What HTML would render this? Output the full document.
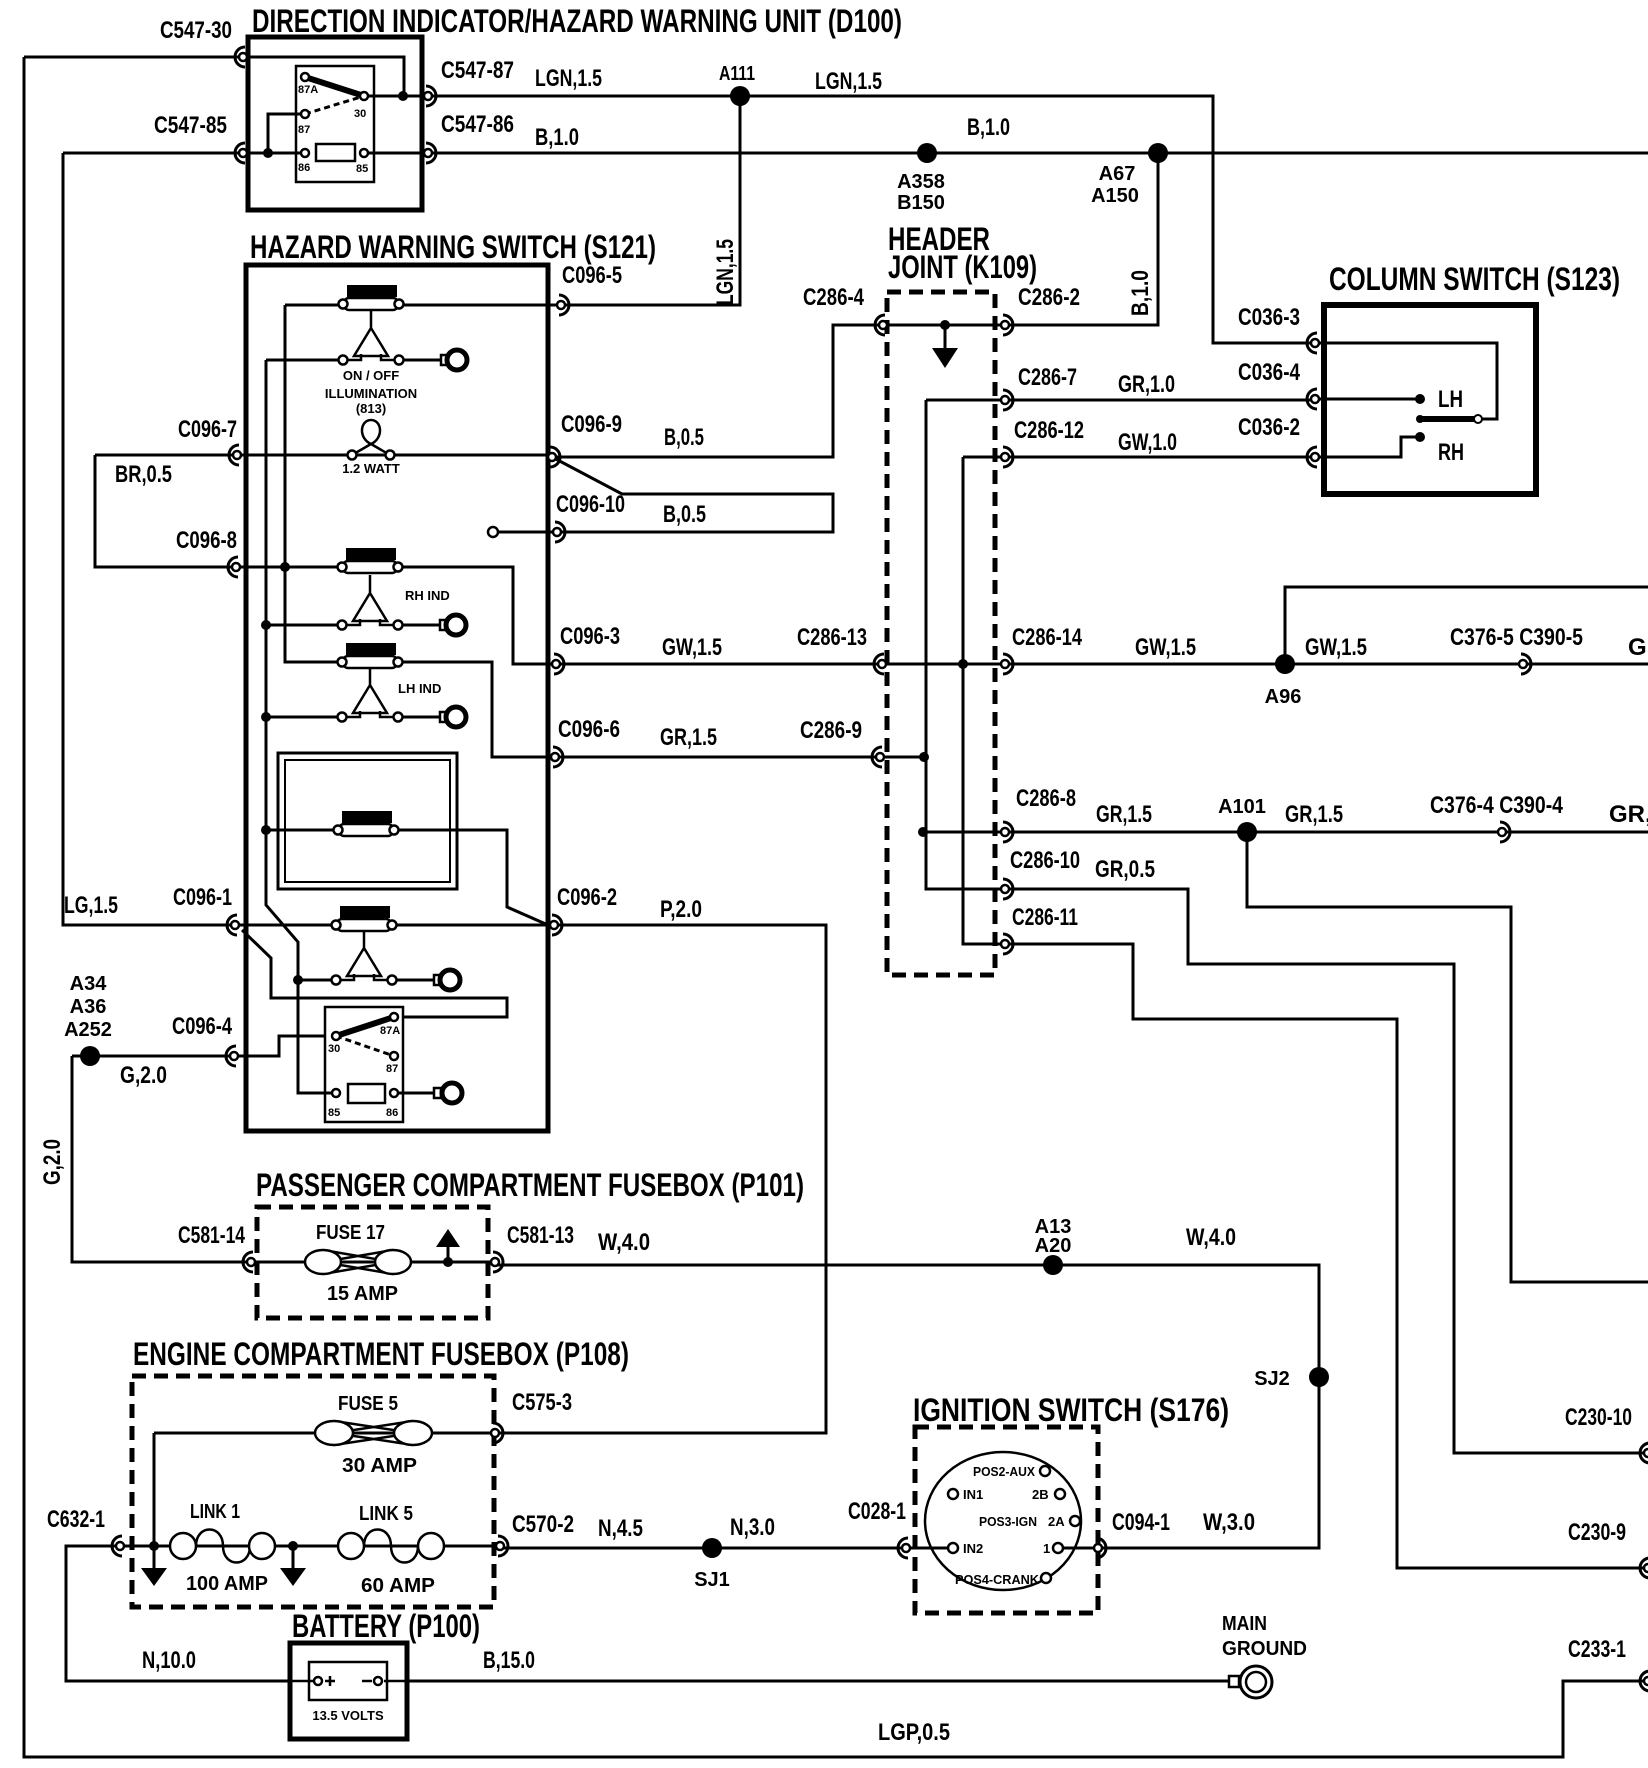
<!DOCTYPE html>
<html><head><meta charset="utf-8"><style>
html,body{margin:0;padding:0;background:#fff}
svg{display:block}
text{font-family:"Liberation Sans Narrow","Liberation Sans",sans-serif;font-weight:bold;fill:#000}
.w{fill:none;stroke:#000;stroke-width:3}
.t{font-size:24px}
.s{font-size:20px}
.x{font-size:13px}
.h{font-size:32px}
</style></head><body>
<svg width="1648" height="1768" viewBox="0 0 1648 1768" xmlns="http://www.w3.org/2000/svg">
<defs>
<g id="cL"><path d="M2,-10 A10,10 0 0 0 2,10" fill="none" stroke="#000" stroke-width="3"/><circle r="4" fill="#fff" stroke="#000" stroke-width="2.5"/></g>
<g id="cR"><path d="M-2,-10 A10,10 0 0 1 -2,10" fill="none" stroke="#000" stroke-width="3"/><circle r="4" fill="#fff" stroke="#000" stroke-width="2.5"/></g>
<g id="sw"><rect x="-24" y="-19" width="50" height="12" fill="#000"/><rect x="-27" y="-6" width="54" height="12" rx="5" fill="#fff" stroke="#000" stroke-width="2.5"/><circle cx="-28" cy="0" r="4.5" fill="#fff" stroke="#000" stroke-width="2.5"/><circle cx="28" cy="0" r="4.5" fill="#fff" stroke="#000" stroke-width="2.5"/></g>
<g id="tri"><path d="M0,6 V24 M0,24 L-17,52 H17 Z" fill="none" stroke="#000" stroke-width="2.5"/><path d="M-28,56 H-10 V50 M10,50 V56 H28" fill="none" stroke="#000" stroke-width="2.5"/><circle cx="-28" cy="56" r="4.5" fill="#fff" stroke="#000" stroke-width="2.5"/><circle cx="28" cy="56" r="4.5" fill="#fff" stroke="#000" stroke-width="2.5"/><path d="M32,56 H70" stroke="#000" stroke-width="3"/><rect x="70" y="51" width="7" height="10" fill="#fff" stroke="#000" stroke-width="2.5"/><circle cx="86" cy="56" r="10" fill="#fff" stroke="#000" stroke-width="5"/></g>
<g id="ring"><rect x="-18" y="-5" width="7" height="10" fill="#fff" stroke="#000" stroke-width="2.5"/><circle cx="0" cy="0" r="10" fill="#fff" stroke="#000" stroke-width="5"/></g>
<g id="dn"><path d="M0,0 V22" stroke="#000" stroke-width="3"/><polygon points="-13,20 13,20 0,38" fill="#000"/></g>
</defs>

<!-- wires -->
<g class="w">
<path d="M24,57 H404 V96 M24,57 V1757 H1563 V1681 H1648"/>
<path d="M63,153 H305 M268,153 V114 H305 M63,153 V925 H554"/>
<path d="M364,96 H428 M364,153 H428"/>
<path d="M428,96 H1213 V343 H1315 M740,96 V305 H561"/>
<path d="M428,153 H1648 M1158,153 V325 H1005"/>
<path d="M883,325 H1005 M883,325 H833 V457 H552 M945,325 V350"/>
<path d="M926,400 H1315 M926,400 V889 H1005 M963,457 H1315 M963,457 V944 H1005"/>
<path d="M1315,343 H1497 V419 H1478 M1315,399 H1420 M1315,457 H1401 V437 H1420"/>
<path d="M285,305 H561 M285,305 V662 H402 M266,360 V905 L298,942 V1093 H336"/>
<path d="M266,360 H343 M266,625 H342 M266,717 H342 M298,980 H336"/>
<path d="M95,455 H552 M95,455 V567 H402 M402,567 H513 V664 H556 M402,662 H492 V757 H555"/>
<path d="M266,830 H398 M398,830 H507 V907 L548,925"/>
<path d="M242,930 L271,958 V998 H507 V1017 H394"/>
<path d="M234,1056 H279 V1036 H336"/>
<path d="M493,532 H557 M552,457 L622,494 H833 V532 H557"/>
<path d="M556,664 H1648 M555,757 H924 M1285,664 V587 H1648"/>
<path d="M923,832 H1648 M1247,832 V907 H1511 V1282 H1648"/>
<path d="M1005,889 H1188 V964 H1454 V1453 H1648"/>
<path d="M1005,944 H1133 V1019 H1397 V1568 H1648"/>
<path d="M554,925 H826 V1433 H495"/>
<path d="M72,1056 H234 M72,1056 V1262 H251 M251,1262 H495 M448,1262 V1245"/>
<path d="M495,1265 H1319 V1548 H1098"/>
<path d="M154,1433 H495 M154,1433 V1546 M120,1546 H500"/>
<path d="M500,1548 H954 M1058,1548 H1098"/>
<path d="M120,1546 H66 V1681 H1229"/>
</g>

<!-- D100 -->
<rect x="248" y="37" width="174" height="173" fill="none" stroke="#000" stroke-width="5"/>
<rect x="296" y="66" width="78" height="116" fill="none" stroke="#000" stroke-width="2.5"/>
<path d="M305,77 L364,96" stroke="#000" stroke-width="6"/>
<path d="M305,114 L364,96" stroke="#000" stroke-width="3" stroke-dasharray="6 4"/>
<rect x="316" y="144" width="39" height="17" fill="#fff" stroke="#000" stroke-width="2.5"/>
<g fill="#fff" stroke="#000" stroke-width="2.5"><circle cx="305" cy="77" r="4"/><circle cx="364" cy="96" r="4"/><circle cx="305" cy="114" r="4"/><circle cx="305" cy="153" r="4"/><circle cx="364" cy="153" r="4"/></g>
<g fill="#000"><circle cx="403" cy="96" r="5"/><circle cx="268" cy="153" r="5"/><circle cx="740" cy="96" r="10"/><circle cx="927" cy="153" r="10"/><circle cx="1158" cy="153" r="10"/><circle cx="945" cy="325" r="5"/></g>
<text x="298" y="93" style="font-size:11px">87A</text><text x="354" y="117" style="font-size:11px">30</text>
<text x="298" y="133" style="font-size:11px">87</text><text x="298" y="171" style="font-size:11px">86</text><text x="356" y="172" style="font-size:11px">85</text>
<polygon points="932,348 958,348 945,368" fill="#000"/>

<!-- S121 -->
<rect x="246" y="265" width="302" height="866" fill="none" stroke="#000" stroke-width="5"/>
<use href="#sw" x="371" y="304"/><use href="#tri" x="371" y="304"/>
<text class="x" x="371" y="380" text-anchor="middle">ON / OFF</text>
<text class="x" x="371" y="398" text-anchor="middle">ILLUMINATION</text>
<text class="x" x="371" y="413" text-anchor="middle">(813)</text>
<path d="M352,455 L371,444 L390,455" fill="none" stroke="#000" stroke-width="2.5"/>
<path d="M371,444 C358,438 360,420 371,420 C382,420 384,438 371,444" fill="none" stroke="#000" stroke-width="2.5"/>
<circle cx="352" cy="455" r="4.5" fill="#fff" stroke="#000" stroke-width="2.5"/><circle cx="390" cy="455" r="4.5" fill="#fff" stroke="#000" stroke-width="2.5"/>
<text class="x" x="371" y="473" text-anchor="middle">1.2 WATT</text>
<circle cx="493" cy="532" r="5" fill="#fff" stroke="#000" stroke-width="2.5"/>
<use href="#sw" x="370" y="567"/><use href="#tri" x="370" y="567" transform="translate(0,2)"/>
<text class="x" x="405" y="600">RH IND</text>
<use href="#sw" x="370" y="662"/><use href="#tri" x="370" y="662" transform="translate(0,-1)"/>
<text class="x" x="398" y="693">LH IND</text>
<rect x="278" y="753" width="179" height="136" fill="none" stroke="#000" stroke-width="3"/>
<rect x="285" y="760" width="165" height="122" fill="none" stroke="#000" stroke-width="2"/>
<use href="#sw" x="366" y="830"/>
<use href="#sw" x="364" y="925"/><use href="#tri" x="364" y="925" transform="translate(0,-1)"/>
<rect x="325" y="1007" width="78" height="115" fill="#fff" stroke="#000" stroke-width="2.5"/>
<path d="M336,1036 L394,1017" stroke="#000" stroke-width="6"/>
<path d="M336,1036 L394,1056" stroke="#000" stroke-width="3" stroke-dasharray="6 4"/>
<rect x="348" y="1084" width="37" height="19" fill="#fff" stroke="#000" stroke-width="2.5"/>
<path d="M394,1093 H440 M298,1093 H336" stroke="#000" stroke-width="3"/>
<g fill="#fff" stroke="#000" stroke-width="2.5"><circle cx="394" cy="1017" r="4"/><circle cx="336" cy="1036" r="4"/><circle cx="394" cy="1056" r="4"/><circle cx="336" cy="1093" r="4"/><circle cx="394" cy="1093" r="4"/></g>
<use href="#ring" x="452" y="1093"/>
<text x="380" y="1034" style="font-size:11px">87A</text><text x="328" y="1052" style="font-size:11px">30</text>
<text x="386" y="1072" style="font-size:11px">87</text><text x="328" y="1116" style="font-size:11px">85</text><text x="386" y="1116" style="font-size:11px">86</text>
<g fill="#000"><circle cx="285" cy="567" r="5"/><circle cx="266" cy="625" r="5"/><circle cx="266" cy="717" r="5"/><circle cx="266" cy="830" r="5"/><circle cx="298" cy="980" r="5"/></g>

<!-- K109 -->
<rect x="887" y="292" width="108" height="683" fill="none" stroke="#000" stroke-width="5" stroke-dasharray="14 8"/>
<g fill="#000"><circle cx="963" cy="664" r="5"/><circle cx="924" cy="757" r="5"/><circle cx="923" cy="832" r="5"/><circle cx="1285" cy="664" r="10"/><circle cx="1247" cy="832" r="10"/></g>

<!-- S123 -->
<rect x="1324" y="305" width="212" height="189" fill="none" stroke="#000" stroke-width="6"/>
<path d="M1420,419 H1478" stroke="#000" stroke-width="6"/>
<g fill="#000"><circle cx="1420" cy="399" r="5"/><circle cx="1420" cy="437" r="5"/><circle cx="1420" cy="419" r="4"/></g>
<circle cx="1478" cy="419" r="4" fill="#fff" stroke="#000" stroke-width="2"/>

<!-- P101 -->
<rect x="257" y="1207" width="231" height="111" fill="none" stroke="#000" stroke-width="5" stroke-dasharray="14 8"/>
<g fill="#fff" stroke="#000" stroke-width="2.5">
<path d="M323,1250 L393,1262 L323,1274 M393,1250 L323,1262 L393,1274" fill="none"/>
<ellipse cx="323" cy="1262" rx="18" ry="12"/><ellipse cx="393" cy="1262" rx="18" ry="12"/>
</g>
<polygon points="436,1247 460,1247 448,1229" fill="#000"/>
<circle cx="448" cy="1262" r="5" fill="#000"/>

<!-- P108 -->
<rect x="132" y="1376" width="362" height="231" fill="none" stroke="#000" stroke-width="5" stroke-dasharray="14 8"/>
<g fill="#fff" stroke="#000" stroke-width="2.5">
<path d="M334,1421 L413,1433 L334,1445 M413,1421 L334,1433 L413,1445" fill="none"/>
<ellipse cx="334" cy="1433" rx="19" ry="12"/><ellipse cx="413" cy="1433" rx="19" ry="12"/>
<path d="M196,1546 C196,1524 223,1524 223,1546 C223,1568 250,1568 250,1546" fill="none"/>
<circle cx="183" cy="1546" r="13"/><circle cx="262" cy="1546" r="13"/>
<path d="M364,1546 C364,1524 391,1524 391,1546 C391,1568 418,1568 418,1546" fill="none"/>
<circle cx="351" cy="1546" r="13"/><circle cx="431" cy="1546" r="13"/>
</g>
<circle cx="154" cy="1546" r="5" fill="#000"/><circle cx="293" cy="1546" r="5" fill="#000"/>
<use href="#dn" x="154" y="1548"/><use href="#dn" x="293" y="1548"/>

<!-- Battery -->
<rect x="290" y="1643" width="117" height="96" fill="#fff" stroke="#000" stroke-width="5"/>
<rect x="309" y="1662" width="78" height="38" fill="#fff" stroke="#000" stroke-width="2.5"/>
<path d="M290,1681 H314 M384,1681 H408 M325,1681 H335 M330,1676 V1686 M362,1681 H372" stroke="#000" stroke-width="2.5"/>
<circle cx="318" cy="1681" r="4" fill="#fff" stroke="#000" stroke-width="2.5"/><circle cx="378" cy="1681" r="4" fill="#fff" stroke="#000" stroke-width="2.5"/>
<text class="x" x="348" y="1720" text-anchor="middle">13.5 VOLTS</text>

<!-- ignition -->
<rect x="915" y="1427" width="183" height="186" fill="none" stroke="#000" stroke-width="5" stroke-dasharray="14 8"/>
<ellipse cx="1003" cy="1521" rx="78" ry="69" fill="none" stroke="#000" stroke-width="2.5"/>
<g fill="#fff" stroke="#000" stroke-width="2.5"><circle cx="1045" cy="1471" r="5"/><circle cx="953" cy="1494" r="5"/><circle cx="1060" cy="1494" r="5"/><circle cx="1075" cy="1521" r="5"/><circle cx="953" cy="1548" r="5"/><circle cx="1058" cy="1548" r="5"/><circle cx="1046" cy="1578" r="5"/></g>
<text class="x" x="973" y="1476" textLength="62" lengthAdjust="spacingAndGlyphs">POS2-AUX</text>
<text class="x" x="963" y="1499">IN1</text><text class="x" x="1032" y="1499">2B</text>
<text class="x" x="979" y="1526" textLength="58" lengthAdjust="spacingAndGlyphs">POS3-IGN</text><text class="x" x="1048" y="1526">2A</text>
<text class="x" x="963" y="1553">IN2</text><text class="x" x="1043" y="1553">1</text>
<text class="x" x="955" y="1584" textLength="84" lengthAdjust="spacingAndGlyphs">POS4-CRANK</text>

<!-- dots misc -->
<g fill="#000"><circle cx="90" cy="1056" r="10"/><circle cx="1053" cy="1265" r="10"/><circle cx="1319" cy="1377" r="10"/><circle cx="712" cy="1548" r="10"/></g>
<rect x="1229" y="1676" width="10" height="11" fill="#fff" stroke="#000" stroke-width="2.5"/>
<circle cx="1256" cy="1682" r="16" fill="#fff" stroke="#000" stroke-width="3"/><circle cx="1256" cy="1682" r="10" fill="#fff" stroke="#000" stroke-width="2.5"/>

<!-- connectors -->
<use href="#cL" x="243" y="57"/><use href="#cL" x="243" y="153"/>
<use href="#cR" x="428" y="96"/><use href="#cR" x="428" y="153"/>
<use href="#cR" x="561" y="305"/><use href="#cL" x="237" y="455"/><use href="#cR" x="552" y="457"/>
<use href="#cR" x="557" y="532"/><use href="#cL" x="236" y="567"/><use href="#cR" x="556" y="664"/>
<use href="#cR" x="555" y="757"/><use href="#cL" x="235" y="925"/><use href="#cR" x="554" y="925"/>
<use href="#cL" x="234" y="1056"/>
<use href="#cL" x="883" y="325"/><use href="#cR" x="1005" y="325"/><use href="#cR" x="1005" y="400"/><use href="#cR" x="1005" y="457"/>
<use href="#cL" x="882" y="664"/><use href="#cR" x="1005" y="664"/><use href="#cL" x="880" y="757"/>
<use href="#cR" x="1005" y="832"/><use href="#cR" x="1005" y="889"/><use href="#cR" x="1005" y="944"/>
<use href="#cL" x="1315" y="343"/><use href="#cL" x="1315" y="399"/><use href="#cL" x="1315" y="457"/>
<use href="#cR" x="1523" y="664"/><use href="#cR" x="1502" y="832"/>
<use href="#cL" x="251" y="1262"/><use href="#cR" x="495" y="1262"/>
<use href="#cR" x="495" y="1433"/><use href="#cL" x="120" y="1546"/><use href="#cR" x="500" y="1546"/>
<use href="#cL" x="906" y="1548"/><use href="#cR" x="1098" y="1548"/>
<use href="#cL" x="1648" y="1453"/><use href="#cL" x="1648" y="1568"/><use href="#cL" x="1648" y="1681"/>

<!-- titles -->
<text class="h" x="252" y="32" textLength="650" lengthAdjust="spacingAndGlyphs">DIRECTION INDICATOR/HAZARD WARNING UNIT (D100)</text>
<text class="h" x="250" y="258" textLength="406" lengthAdjust="spacingAndGlyphs">HAZARD WARNING SWITCH (S121)</text>
<text class="h" x="888" y="250" textLength="102" lengthAdjust="spacingAndGlyphs">HEADER</text>
<text class="h" x="888" y="278" textLength="149" lengthAdjust="spacingAndGlyphs">JOINT (K109)</text>
<text class="h" x="1329" y="290" textLength="291" lengthAdjust="spacingAndGlyphs">COLUMN SWITCH (S123)</text>
<text class="h" x="256" y="1196" textLength="548" lengthAdjust="spacingAndGlyphs">PASSENGER COMPARTMENT FUSEBOX (P101)</text>
<text class="h" x="133" y="1365" textLength="496" lengthAdjust="spacingAndGlyphs">ENGINE COMPARTMENT FUSEBOX (P108)</text>
<text class="h" x="292" y="1637" textLength="188" lengthAdjust="spacingAndGlyphs">BATTERY (P100)</text>
<text class="h" x="913" y="1421" textLength="316" lengthAdjust="spacingAndGlyphs">IGNITION SWITCH (S176)</text>

<!-- labels -->
<g class="t">
<text x="160" y="38" textLength="72" lengthAdjust="spacingAndGlyphs">C547-30</text>
<text x="441" y="78" textLength="73" lengthAdjust="spacingAndGlyphs">C547-87</text>
<text x="154" y="133" textLength="73" lengthAdjust="spacingAndGlyphs">C547-85</text>
<text x="441" y="132" textLength="73" lengthAdjust="spacingAndGlyphs">C547-86</text>
<text x="535" y="86" textLength="67" lengthAdjust="spacingAndGlyphs">LGN,1.5</text>
<text x="535" y="145" textLength="44" lengthAdjust="spacingAndGlyphs">B,1.0</text>
<text x="815" y="89" textLength="67" lengthAdjust="spacingAndGlyphs">LGN,1.5</text>
<text x="967" y="135" textLength="43" lengthAdjust="spacingAndGlyphs">B,1.0</text>
<text x="562" y="283" textLength="60" lengthAdjust="spacingAndGlyphs">C096-5</text>
<text x="803" y="305" textLength="61" lengthAdjust="spacingAndGlyphs">C286-4</text>
<text x="1018" y="305" textLength="62" lengthAdjust="spacingAndGlyphs">C286-2</text>
<text x="1018" y="385" textLength="59" lengthAdjust="spacingAndGlyphs">C286-7</text>
<text x="1014" y="438" textLength="70" lengthAdjust="spacingAndGlyphs">C286-12</text>
<text x="1238" y="325" textLength="62" lengthAdjust="spacingAndGlyphs">C036-3</text>
<text x="1238" y="380" textLength="62" lengthAdjust="spacingAndGlyphs">C036-4</text>
<text x="1238" y="435" textLength="62" lengthAdjust="spacingAndGlyphs">C036-2</text>
<text x="1118" y="392" textLength="57" lengthAdjust="spacingAndGlyphs">GR,1.0</text>
<text x="1118" y="450" textLength="59" lengthAdjust="spacingAndGlyphs">GW,1.0</text>
<text x="1438" y="407" textLength="25" lengthAdjust="spacingAndGlyphs">LH</text>
<text x="1438" y="460" textLength="26" lengthAdjust="spacingAndGlyphs">RH</text>
<text x="178" y="437" textLength="59" lengthAdjust="spacingAndGlyphs">C096-7</text>
<text x="115" y="482" textLength="57" lengthAdjust="spacingAndGlyphs">BR,0.5</text>
<text x="561" y="432" textLength="61" lengthAdjust="spacingAndGlyphs">C096-9</text>
<text x="664" y="445" textLength="40" lengthAdjust="spacingAndGlyphs">B,0.5</text>
<text x="556" y="512" textLength="69" lengthAdjust="spacingAndGlyphs">C096-10</text>
<text x="663" y="522" textLength="43" lengthAdjust="spacingAndGlyphs">B,0.5</text>
<text x="176" y="548" textLength="61" lengthAdjust="spacingAndGlyphs">C096-8</text>
<text x="560" y="644" textLength="60" lengthAdjust="spacingAndGlyphs">C096-3</text>
<text x="662" y="655" textLength="60" lengthAdjust="spacingAndGlyphs">GW,1.5</text>
<text x="797" y="645" textLength="70" lengthAdjust="spacingAndGlyphs">C286-13</text>
<text x="1012" y="645" textLength="70" lengthAdjust="spacingAndGlyphs">C286-14</text>
<text x="1135" y="655" textLength="61" lengthAdjust="spacingAndGlyphs">GW,1.5</text>
<text x="1305" y="655" textLength="62" lengthAdjust="spacingAndGlyphs">GW,1.5</text>
<text x="1450" y="645" textLength="133" lengthAdjust="spacingAndGlyphs">C376-5 C390-5</text>
<text x="1628" y="655">G</text>
<text x="558" y="737" textLength="62" lengthAdjust="spacingAndGlyphs">C096-6</text>
<text x="660" y="745" textLength="57" lengthAdjust="spacingAndGlyphs">GR,1.5</text>
<text x="800" y="738" textLength="62" lengthAdjust="spacingAndGlyphs">C286-9</text>
<text x="1016" y="806" textLength="60" lengthAdjust="spacingAndGlyphs">C286-8</text>
<text x="1096" y="822" textLength="56" lengthAdjust="spacingAndGlyphs">GR,1.5</text>
<text x="1285" y="822" textLength="58" lengthAdjust="spacingAndGlyphs">GR,1.5</text>
<text x="1430" y="813" textLength="133" lengthAdjust="spacingAndGlyphs">C376-4 C390-4</text>
<text x="1609" y="822">GR,1</text>
<text x="1010" y="868" textLength="70" lengthAdjust="spacingAndGlyphs">C286-10</text>
<text x="1095" y="877" textLength="60" lengthAdjust="spacingAndGlyphs">GR,0.5</text>
<text x="1012" y="925" textLength="66" lengthAdjust="spacingAndGlyphs">C286-11</text>
<text x="64" y="913" textLength="54" lengthAdjust="spacingAndGlyphs">LG,1.5</text>
<text x="173" y="905" textLength="59" lengthAdjust="spacingAndGlyphs">C096-1</text>
<text x="557" y="905" textLength="60" lengthAdjust="spacingAndGlyphs">C096-2</text>
<text x="660" y="917" textLength="42" lengthAdjust="spacingAndGlyphs">P,2.0</text>
<text x="172" y="1034" textLength="60" lengthAdjust="spacingAndGlyphs">C096-4</text>
<text x="120" y="1083" textLength="47" lengthAdjust="spacingAndGlyphs">G,2.0</text>
<text x="178" y="1243" textLength="67" lengthAdjust="spacingAndGlyphs">C581-14</text>
<text x="507" y="1243" textLength="67" lengthAdjust="spacingAndGlyphs">C581-13</text>
<text x="598" y="1250" textLength="52" lengthAdjust="spacingAndGlyphs">W,4.0</text>
<text x="1186" y="1245" textLength="50" lengthAdjust="spacingAndGlyphs">W,4.0</text>
<text x="512" y="1410" textLength="60" lengthAdjust="spacingAndGlyphs">C575-3</text>
<text x="47" y="1527" textLength="58" lengthAdjust="spacingAndGlyphs">C632-1</text>
<text x="512" y="1532" textLength="62" lengthAdjust="spacingAndGlyphs">C570-2</text>
<text x="598" y="1536" textLength="45" lengthAdjust="spacingAndGlyphs">N,4.5</text>
<text x="730" y="1535" textLength="45" lengthAdjust="spacingAndGlyphs">N,3.0</text>
<text x="848" y="1519" textLength="58" lengthAdjust="spacingAndGlyphs">C028-1</text>
<text x="1112" y="1530" textLength="58" lengthAdjust="spacingAndGlyphs">C094-1</text>
<text x="1203" y="1530" textLength="52" lengthAdjust="spacingAndGlyphs">W,3.0</text>
<text x="142" y="1668" textLength="54" lengthAdjust="spacingAndGlyphs">N,10.0</text>
<text x="483" y="1668" textLength="52" lengthAdjust="spacingAndGlyphs">B,15.0</text>
<text x="878" y="1740" textLength="72" lengthAdjust="spacingAndGlyphs">LGP,0.5</text>
<text x="1565" y="1425" textLength="67" lengthAdjust="spacingAndGlyphs">C230-10</text>
<text x="1568" y="1540" textLength="58" lengthAdjust="spacingAndGlyphs">C230-9</text>
<text x="1568" y="1657" textLength="58" lengthAdjust="spacingAndGlyphs">C233-1</text>
</g>
<g class="s">
<text x="719" y="80" textLength="36" lengthAdjust="spacingAndGlyphs">A111</text>
<text x="921" y="188" text-anchor="middle">A358</text>
<text x="921" y="209" text-anchor="middle">B150</text>
<text x="1117" y="180" text-anchor="middle">A67</text>
<text x="1115" y="202" text-anchor="middle">A150</text>
<text x="1283" y="703" text-anchor="middle">A96</text>
<text x="1242" y="813" text-anchor="middle">A101</text>
<text x="88" y="990" text-anchor="middle">A34</text>
<text x="88" y="1013" text-anchor="middle">A36</text>
<text x="88" y="1036" text-anchor="middle">A252</text>
<text x="1053" y="1233" text-anchor="middle">A13</text>
<text x="1053" y="1252" text-anchor="middle">A20</text>
<text x="1272" y="1385" text-anchor="middle">SJ2</text>
<text x="712" y="1586" text-anchor="middle">SJ1</text>
<text x="1222" y="1630" textLength="45" lengthAdjust="spacingAndGlyphs">MAIN</text>
<text x="1222" y="1655" textLength="85" lengthAdjust="spacingAndGlyphs">GROUND</text>
<text x="316" y="1239" textLength="69" lengthAdjust="spacingAndGlyphs">FUSE 17</text>
<text x="327" y="1300" textLength="71" lengthAdjust="spacingAndGlyphs">15 AMP</text>
<text x="338" y="1410" textLength="60" lengthAdjust="spacingAndGlyphs">FUSE 5</text>
<text x="342" y="1472" textLength="75" lengthAdjust="spacingAndGlyphs">30 AMP</text>
<text x="190" y="1518" textLength="50" lengthAdjust="spacingAndGlyphs">LINK 1</text>
<text x="359" y="1520" textLength="54" lengthAdjust="spacingAndGlyphs">LINK 5</text>
<text x="186" y="1590" textLength="82" lengthAdjust="spacingAndGlyphs">100 AMP</text>
<text x="361" y="1592" textLength="74" lengthAdjust="spacingAndGlyphs">60 AMP</text>
</g>
<g class="t">
<text transform="translate(733,272) rotate(-90)" text-anchor="middle" textLength="66" lengthAdjust="spacingAndGlyphs">LGN,1.5</text>
<text transform="translate(1148,293) rotate(-90)" text-anchor="middle" textLength="46" lengthAdjust="spacingAndGlyphs">B,1.0</text>
<text transform="translate(60,1162) rotate(-90)" text-anchor="middle" textLength="46" lengthAdjust="spacingAndGlyphs">G,2.0</text>
</g>
</svg>
</body></html>
